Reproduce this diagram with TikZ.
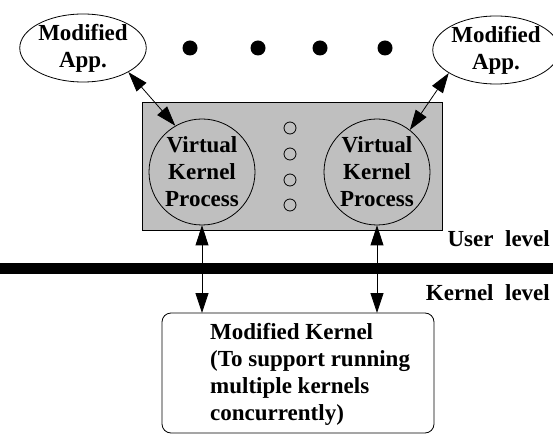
\documentclass[tikz,border=0pt]{standalone}
\usepackage{fontspec}
\setmainfont{Liberation Serif}
\usetikzlibrary{shapes.geometric,arrows.meta}
\begin{document}
\begin{tikzpicture}[x=1pt,y=-1pt,
  lbl/.style={font=\fontsize{23}{27}\selectfont\bfseries},
  app/.style={lbl,draw,ellipse,inner sep=0pt,minimum width=116pt,minimum height=68pt,align=center,line width=0.8pt},
  vkp/.style={lbl,draw,circle,inner sep=0pt,minimum size=106pt,align=center,line width=0.8pt},
  bigdot/.style={fill=black,circle,inner sep=0pt,minimum size=15pt},
  smalldot/.style={draw,circle,inner sep=0pt,minimum size=12pt,line width=0.8pt},
  link/.style={line width=0.8pt,{Triangle[length=20pt,width=13pt]}-{Triangle[length=20pt,width=13pt]}}]
\useasboundingbox (0,0) rectangle (553,435);

% user-level container
\draw[line width=0.8pt,fill=black!25] (142,102) rectangle (442,230);

% applications
\node[app] (la) at (83,48) {Modified\\App.};
\node[app] (ra) at (496,50) {Modified\\App.};

% ellipsis between the applications
\foreach \x/\n in {190/d1,258/d2,320/d3,385/d4}
  \node[bigdot] (\n) at (\x,48) {};

% virtual kernel processes
\node[vkp] (lc) at (202,172) {Virtual\\Kernel\\Process};
\node[vkp] (rc) at (377,172) {Virtual\\Kernel\\Process};

% more processes in between
\foreach \y/\n in {128/s1,154/s2,180/s3,205/s4}
  \node[smalldot] (\n) at (290,\y) {};

% user / kernel boundary
\draw[fill=black] (0,263) rectangle (553,273);
\node[lbl,anchor=base east,inner sep=0pt] (ul) at (550,247) {User\hspace{0.5em}level};
\node[lbl,anchor=base east,inner sep=0pt] (kl) at (550,300) {Kernel\hspace{0.5em}level};

% kernel
\draw[line width=0.8pt,rounded corners=9pt] (162,313) rectangle (434,433);
\coordinate (kb) at (298,313);
\node[lbl,anchor=north west,align=left,inner sep=0pt] (kt) at (210,323)
  {Modified Kernel\\(To support running\\multiple kernels\\concurrently)};

% connectors
\draw[link] (la.-28) -- (lc.120);
\draw[link] (ra.206) -- (rc.52);
\draw[link] (lc.south) -- (lc.south |- kb);
\draw[link] (rc.south) -- (rc.south |- kb);
\end{tikzpicture}
\end{document}
